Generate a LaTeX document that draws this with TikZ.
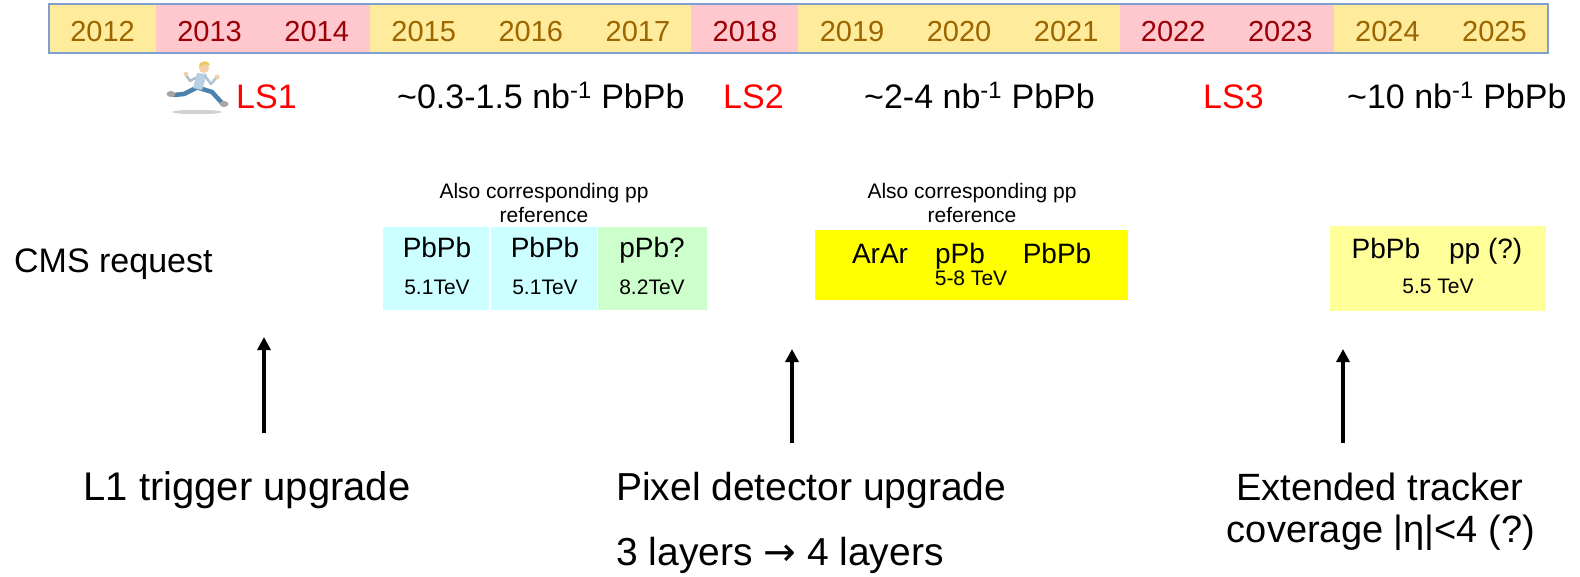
\documentclass[tikz,border=0pt]{standalone}
\usepackage{fontspec}
\setmainfont{Liberation Sans}
\newfontfamily\arrowfont{DejaVu Sans}
\usetikzlibrary{arrows.meta}

\definecolor{neutralfill}{HTML}{FFEB9C}
\definecolor{neutraltext}{HTML}{9C6500}
\definecolor{badfill}{HTML}{FFC7CE}
\definecolor{badtext}{HTML}{9C0006}
\definecolor{barline}{HTML}{7F9FCF}
\definecolor{cyanbox}{HTML}{CCFFFF}
\definecolor{greenbox}{HTML}{CCFFCC}
\definecolor{yellowbox}{HTML}{FFFF00}
\definecolor{paleyellow}{HTML}{FFFF99}
\definecolor{shirt}{HTML}{B9CFE3}
\definecolor{jeans}{HTML}{4B82AE}
\definecolor{skin}{HTML}{F3CFA6}
\definecolor{hair}{HTML}{E9C95A}
\definecolor{lsred}{HTML}{FF0000}

\tikzset{
  yearlabel/.style={inner sep=0pt, anchor=base, font=\fontsize{29}{29}\selectfont},
  rowtext/.style={inner sep=0pt, anchor=base west, font=\fontsize{34}{34}\selectfont},
  shutdown/.style={rowtext, text=lsred},
  notetext/.style={inner sep=0pt, align=center, font=\fontsize{21}{24}\selectfont},
  species/.style={inner sep=0pt, anchor=base, font=\fontsize{28}{28}\selectfont},
  energy/.style={inner sep=0pt, anchor=base, font=\fontsize{21}{21}\selectfont},
  runbox/.style={inner sep=0pt, anchor=north west},
  upgradetext/.style={inner sep=0pt, font=\fontsize{39}{42}\selectfont},
  uparrow/.style={line width=3.6pt, -{Triangle[length=13pt,width=13pt]}},
}

\begin{document}
\begin{tikzpicture}[x=1pt,y=-1pt]
\useasboundingbox (0,0) rectangle (1580,576);

% year bar
\foreach \yr/\fc/\tc [count=\i from 0] in
  {2012/neutralfill/neutraltext, 2013/badfill/badtext, 2014/badfill/badtext,
   2015/neutralfill/neutraltext, 2016/neutralfill/neutraltext, 2017/neutralfill/neutraltext,
   2018/badfill/badtext, 2019/neutralfill/neutraltext, 2020/neutralfill/neutraltext,
   2021/neutralfill/neutraltext, 2022/badfill/badtext, 2023/badfill/badtext,
   2024/neutralfill/neutraltext, 2025/neutralfill/neutraltext}{
  \path[fill=\fc] ({49+107.07*\i},4) rectangle ({49+107.07*(\i+1)},53);
  \node[yearlabel, text=\tc] (y\yr) at ({49+107.07*(\i+0.5)},41) {\yr};
}
\draw[barline, line width=1.3pt] (49,4) rectangle (1548,53);

% running figure beside LS1
\begin{scope}[line cap=round, line join=round]
  \fill[gray!35] (197,112) ellipse [x radius=25, y radius=2.2];
  \draw[jeans, line width=4.5pt] (196,88) -- (184,94) -- (174,95);
  \fill[gray!70] (171,94) ellipse [x radius=4.5, y radius=3];
  \draw[jeans, line width=4.5pt] (199,88) -- (212,92) -- (222,103);
  \fill[gray!70] (224,104) ellipse [x radius=4.5, y radius=3];
  \draw[shirt!80!gray, line width=2.5pt] (199,76) -- (190,81) -- (186,75);
  \fill[shirt] (197,73) -- (207,74) -- (202,90) -- (193,88) -- cycle;
  \draw[shirt!85!gray, line width=2.5pt] (205,76) -- (211,84) -- (216,78);
  \fill[skin] (217,77) circle (2.5);
  \fill[skin] (186,74) circle (2.2);
  \fill[skin] (204,68) circle (5);
  \fill[hair] (199,67) .. controls (199,60) and (209,59) .. (210,66) -- (206,64) -- cycle;
\end{scope}

% shutdowns and integrated luminosities
\node[shutdown] (ls1) at (236,108) {LS1};
\node[rowtext] (lumiA) at (397,108) {\textasciitilde0.3-1.5 nb\textsuperscript{-1} PbPb};
\node[shutdown] (ls2) at (723,108) {LS2};
\node[rowtext] (lumiB) at (864,108) {\textasciitilde2-4 nb\textsuperscript{-1} PbPb};
\node[shutdown] (ls3) at (1203,108) {LS3};
\node[rowtext] (lumiC) at (1347,108) {\textasciitilde10 nb\textsuperscript{-1} PbPb};

% request row
\node[rowtext] (cms) at (14,272) {CMS request};

\node[notetext] (noteA) at (544,203) {Also corresponding pp\\reference};
\node[notetext] (noteB) at (972,203) {Also corresponding pp\\reference};

\node[runbox, fill=cyanbox, minimum width=106pt, minimum height=83pt] (run1) at (383,227) {};
\node[runbox, fill=cyanbox, minimum width=106pt, minimum height=83pt] (run2) at (491,227) {};
\node[runbox, fill=greenbox, minimum width=109pt, minimum height=83pt] (run3) at (598,227) {};
\node[species] (sp1) at (437,257) {PbPb};
\node[energy] (en1) at (437,294) {5.1TeV};
\node[species] (sp2) at (545,257) {PbPb};
\node[energy] (en2) at (545,294) {5.1TeV};
\node[species] (sp3) at (652,257) {pPb?};
\node[energy] (en3) at (652,294) {8.2TeV};

\node[runbox, fill=yellowbox, minimum width=313pt, minimum height=70pt] (run4) at (815,230) {};
\node[species] (sp4a) at (880,263) {ArAr};
\node[species] (sp4b) at (960,263) {pPb};
\node[species] (sp4c) at (1057,263) {PbPb};
\node[energy] (en4) at (971,285) {5-8 TeV};

\node[runbox, fill=paleyellow, minimum width=216pt, minimum height=85pt] (run5) at (1330,226) {};
\node[species] (sp5) at (1437,258) {PbPb\hspace{29pt}pp (?)};
\node[energy] (en5) at (1438,293) {5.5 TeV};

% detector upgrades
\coordinate (a1s) at (264,433);
\coordinate (a1e) at (264,337);
\coordinate (a2s) at (792,443);
\coordinate (a2e) at (792,349);
\coordinate (a3s) at (1343,443);
\coordinate (a3e) at (1343,349);
\draw[uparrow] (a1s) -- (a1e);
\draw[uparrow] (a2s) -- (a2e);
\draw[uparrow] (a3s) -- (a3e);

\node[upgradetext, anchor=base, font=\fontsize{40}{42}\selectfont] (l1) at (247,500) {L1 trigger upgrade};
\node[upgradetext, anchor=base west] (pix) at (616,500) {Pixel detector upgrade};
\node[upgradetext, anchor=base west] (pixb) at (616,565) {3 layers {\arrowfont →} 4 layers};
\node[upgradetext, anchor=base, font=\fontsize{38}{40}\selectfont] (trk) at (1380,500) {Extended tracker};
\node[upgradetext, anchor=base, font=\fontsize{38}{40}\selectfont] (trkb) at (1381,542) {coverage |η|<4 (?)};
\end{tikzpicture}
\end{document}
